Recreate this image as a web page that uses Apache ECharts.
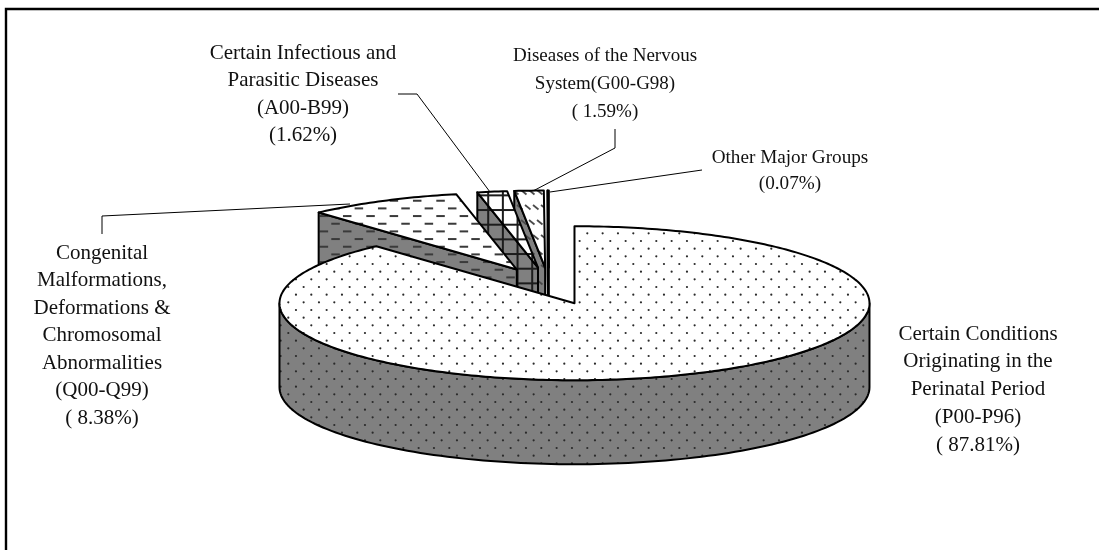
<!DOCTYPE html>
<html>
<head>
<meta charset="utf-8">
<title>Perinatal deaths pie</title>
<script src="https://cdn.jsdelivr.net/npm/echarts@6/dist/echarts.min.js"></script>
<style>
  html, body { margin: 0; padding: 0; background: #fff; }
  #chart { width: 1099px; height: 550px; }
</style>
</head>
<body>
<div id="chart"></div>
<script>
// data
var categories = ['Perinatal', 'Congenital', 'Infectious', 'Nervous', 'Other'];
var values = [87.81, 8.38, 1.62, 1.59, 0.07];
var labelLines = [
  ['Certain Conditions', 'Originating in the', 'Perinatal Period', '(P00-P96)', '( 87.81%)'],
  ['Congenital', 'Malformations,', 'Deformations &', 'Chromosomal', 'Abnormalities', '(Q00-Q99)', '( 8.38%)'],
  ['Certain Infectious and', 'Parasitic Diseases', '(A00-B99)', '(1.62%)'],
  ['Diseases of the Nervous', 'System(G00-G98)', '( 1.59%)'],
  ['Other Major Groups', '(0.07%)']
];

// layout of the tilted pie
var cx = 549, cy = 286, rx = 295, ry = 77, depth = 84, explode = 0.24;
// x, first line y, line step, font size
var labelPos = [[978, 334, 27.9, 21], [102, 253, 27.5, 21], [303, 53, 27.5, 21], [605, 56, 28, 19], [790, 158, 26, 19.2]];
var leaders = [
  [[102, 234], [102, 216], [350, 204]],
  [[398, 94], [417, 94], [490, 192]],
  [[615, 129], [615, 148], [533, 191]],
  [[550, 192], [702, 170]]
];

function tile(w, h, bg, paint) {
  var c = document.createElement('canvas');
  c.width = w; c.height = h;
  var ctx = c.getContext('2d');
  ctx.fillStyle = bg;
  ctx.fillRect(0, 0, w, h);
  paint(ctx, w, h);
  return { image: c, repeat: 'repeat' };
}
function dots(ctx, w, h) {
  ctx.fillStyle = '#2a2a2a';
  for (var r = -1; r < 7; r++) {
    for (var k = -1; k < 4; k++) {
      ctx.beginPath();
      ctx.arc(12.3 + k * 46 / 3 + (r % 2 ? 23 / 3 : 0), 11 + r * 23 / 3, 1.1, 0, Math.PI * 2);
      ctx.fill();
    }
  }
}
function dashes(ctx, w, h) {
  ctx.fillStyle = '#3a3a3a';
  for (var r = -1; r < 7; r++) {
    for (var k = -1; k < 4; k++) {
      ctx.fillRect(20.3 + k * 70 / 3 + (r % 2 ? 35 / 3 : 0) - 4, 1.4 + r * 23 / 3 - 1, 8.5, 2);
    }
  }
}
function plaid(ctx, w, h) {
  ctx.fillStyle = '#1c1c1c';
  for (var k = 0; k < 3; k++) {
    ctx.fillRect(4.2 + k * 44 / 3 - 1, 0, 2, h);
    ctx.fillRect(0, 4.7 + k * 44 / 3 - 1, w, 2);
  }
}
function slashes(ctx, w, h) {
  ctx.strokeStyle = '#4a4a4a';
  ctx.lineWidth = 1.8;
  for (var r = -1; r < 3; r++) {
    for (var k = -1; k < 4; k++) {
      var x = 1 + k * 8 + (r % 2 ? 4 : 0), y = 10 + r * 15;
      ctx.beginPath();
      ctx.moveTo(x, y);
      ctx.lineTo(x + 5.5, y + 4.5);
      ctx.stroke();
    }
  }
}
var topFills = [
  tile(46, 46, '#fff', dots), tile(70, 46, '#fff', dashes), tile(44, 44, '#fff', plaid),
  tile(16, 30, '#fff', slashes), '#fff'
];
var sideFills = [
  tile(46, 46, '#808080', dots), tile(70, 46, '#808080', dashes), tile(44, 44, '#808080', plaid),
  tile(16, 30, '#808080', slashes), '#fff'
];

var total = values.reduce(function (a, b) { return a + b; }, 0);
var TWO_PI = Math.PI * 2;

function sliceAngles(i) {
  var before = 0;
  for (var k = 0; k < i; k++) before += values[k];
  return [before / total * TWO_PI, (before + values[i]) / total * TWO_PI];
}

function renderSlice(params, api) {
  var i = api.value(0);
  var a = sliceAngles(i);
  var mid = (a[0] + a[1]) / 2;
  var ax = cx + explode * rx * Math.sin(mid);
  var ay = cy - explode * ry * Math.cos(mid);
  function rim(t) { return [ax + rx * Math.sin(t), ay - ry * Math.cos(t)]; }
  function drop(p) { return [p[0], p[1] + depth]; }
  var line = { stroke: '#000', lineWidth: 2, lineJoin: 'round' };
  var z = values.length - i;
  var kids = [];
  function poly(points, fill) {
    kids.push({ type: 'polygon', shape: { points: points }, z2: z, style: Object.assign({ fill: fill }, line) });
  }
  // cut faces turned towards the viewer
  if (Math.sin(a[0]) < -1e-6) {
    var s = rim(a[0]);
    poly([[ax, ay], s, drop(s), [ax, ay + depth]], sideFills[i]);
  }
  if (Math.sin(a[1]) > 1e-6) {
    var e = rim(a[1]);
    poly([[ax, ay], e, drop(e), [ax, ay + depth]], sideFills[i]);
  }
  // outer wall, front half of the ellipse only
  var from = Math.max(a[0], Math.PI / 2), to = Math.min(a[1], Math.PI * 1.5);
  if (to > from) {
    var upper = [], lower = [];
    for (var n = 0; n <= 120; n++) {
      var p = rim(from + (to - from) * n / 120);
      upper.push(p);
      lower.unshift(drop(p));
    }
    poly(upper.concat(lower), sideFills[i]);
  }
  // top face
  var pts = [[ax, ay]];
  var steps = Math.max(2, Math.ceil((a[1] - a[0]) * 60));
  for (var m = 0; m <= steps; m++) pts.push(rim(a[0] + (a[1] - a[0]) * m / steps));
  poly(pts, topFills[i]);
  return { type: 'group', children: kids };
}

var graphics = [
  // frame runs off the right and bottom of the picture
  { type: 'polyline', shape: { points: [[6, 560], [6, 9], [1110, 9]] }, style: { stroke: '#000', lineWidth: 2.4, fill: null } }
];
leaders.forEach(function (pts) {
  graphics.push({ type: 'polyline', shape: { points: pts }, style: { stroke: '#000', lineWidth: 1, fill: null } });
});
labelLines.forEach(function (lines, i) {
  lines.forEach(function (t, k) {
    graphics.push({
      type: 'text',
      x: labelPos[i][0],
      y: labelPos[i][1] + k * labelPos[i][2],
      style: {
        text: t, fill: '#111', align: 'center', verticalAlign: 'middle',
        font: labelPos[i][3] + 'px "Liberation Serif", serif'
      }
    });
  });
});

var myChart = echarts.init(document.getElementById('chart'), null, { renderer: 'canvas' });
myChart.setOption({
  animation: false,
  backgroundColor: '#fff',
  series: [{
    type: 'custom',
    coordinateSystem: 'none',
    name: 'share',
    silent: true,
    z: 5,
    renderItem: renderSlice,
    data: categories.map(function (c, i) { return { name: c, value: [i, values[i]] }; })
  }],
  graphic: graphics
});
</script>
</body>
</html>
